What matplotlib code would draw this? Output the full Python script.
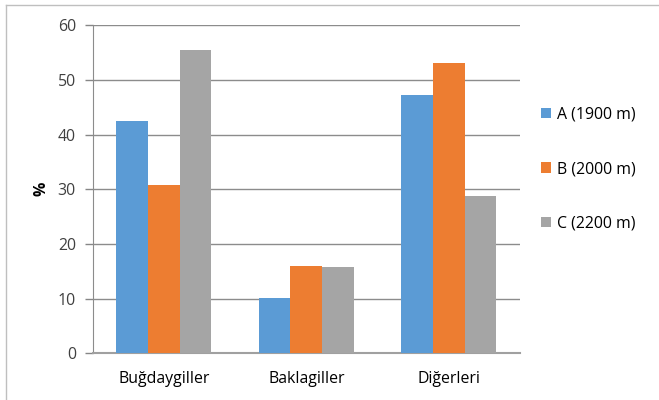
import matplotlib
matplotlib.use("Agg")
import matplotlib.pyplot as plt
from matplotlib.lines import Line2D
from matplotlib.patches import Patch
import numpy as np

categories = ["Buğdaygiller", "Baklagiller", "Diğerleri"]
series_names = ["A (1900 m)", "B (2000 m)", "C (2200 m)"]
series_a = [42.5, 10.1, 47.3]
series_b = [30.8, 15.9, 53.1]
series_c = [55.5, 15.7, 28.7]
colors = ["#5B9BD5", "#ED7D31", "#A5A5A5"]
y_ticks = [0, 10, 20, 30, 40, 50, 60]

plt.rcParams["font.family"] = ["Open Sans", "DejaVu Sans"]

W, H = 659, 400
FS = 11.4
fig = plt.figure(figsize=(W / 100, H / 100), dpi=100)
ax = fig.add_axes([92.5 / W, 1 - 353.3 / H, (520 - 92.5) / W, (353.3 - 25.3) / H])

x = np.arange(len(categories))
bw = 1 / 4.5
for i, (vals, c) in enumerate(zip([series_a, series_b, series_c], colors)):
    ax.bar(x + (i - 1) * bw, vals, width=bw, color=c, zorder=3, label=series_names[i])

ax.set_xlim(-0.5, len(categories) - 0.5)
ax.set_ylim(0, 60)
ax.set_yticks(y_ticks)
ax.set_yticklabels([str(t) for t in y_ticks], fontsize=FS, color="#404040")
ax.set_xticks(x)
ax.set_xticklabels(categories, fontsize=FS, color="#000000")
ax.tick_params(axis="x", length=0, pad=13)
ax.tick_params(axis="y", length=6, width=1, color="#868686", pad=6)

ax.grid(axis="y", color="#8c8c8c", linewidth=1, zorder=0)
for s in ["top", "right"]:
    ax.spines[s].set_visible(False)
ax.spines["left"].set_color("#8c8c8c")
ax.spines["bottom"].set_color("#a0a0a0")
ax.spines["bottom"].set_linewidth(1.5)
ax.set_ylabel("%", fontsize=FS, fontweight="bold", labelpad=6)

handles = [Patch(facecolor=c) for c in colors]
fig.legend(handles, series_names, loc="center left", bbox_to_anchor=(541 / W, 1 - 169 / H),
           frameon=False, fontsize=FS, handlelength=0.62, handleheight=0.62,
           handletextpad=0.4, labelspacing=2.45, borderpad=0, borderaxespad=0)

# outer chart frame (left and top edges)
fig.add_artist(Line2D([6 / W, 6 / W], [0, 1 - 5 / H], color="#bfbfbf", linewidth=1, transform=fig.transFigure))
fig.add_artist(Line2D([6 / W, 1], [1 - 5 / H, 1 - 5 / H], color="#bfbfbf", linewidth=1, transform=fig.transFigure))

fig.savefig("out.png", dpi=100)
